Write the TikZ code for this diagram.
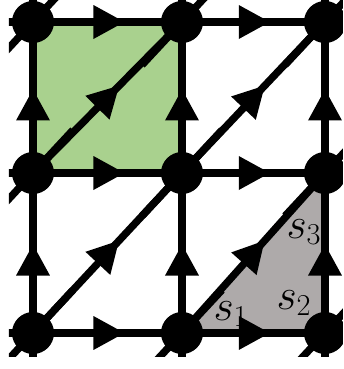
\documentclass[tikz,border=0pt]{standalone}
\usetikzlibrary{decorations.markings,calc}
\definecolor{cellgreen}{HTML}{A9D18E}
\definecolor{cellgray}{HTML}{AEAAAA}
\tikzset{
  bond/.style={line width=4.2pt},
  flow/.style={bond, postaction={decorate},
    decoration={markings, mark=at position #1 with {\fill (0.04,0) -- (-0.58,0.34) -- (-0.58,-0.34) -- cycle;}}},
  site/.style={circle, fill=black, inner sep=0pt, minimum size=0.84cm},
  lab/.style={font=\fontsize{25}{30}\selectfont},
}
\begin{document}
\begin{tikzpicture}
    \useasboundingbox (0,0) rectangle (6.86,7.38);
    \clip (0.18,0.26) rectangle (6.86,7.38);

    % lattice points
    \coordinate (v00) at (0.66,0.72);
    \coordinate (v10) at (3.64,0.72);
    \coordinate (v20) at (6.50,0.72);
    \coordinate (v01) at (0.66,3.92);
    \coordinate (v11) at (3.64,3.92);
    \coordinate (v21) at (6.50,3.92);
    \coordinate (v02) at (0.66,6.94);
    \coordinate (v12) at (3.64,6.94);
    \coordinate (v22) at (6.50,6.94);

    % plaquette and triangle
    \fill[cellgreen] (v01) rectangle (v12);
    \fill[cellgray] (v10) -- (v20) -- (v21) -- cycle;

    % bonds running out of the frame
    \foreach \v in {v00,v10,v20,v01,v11,v21,v02,v12,v22} {
      \draw[bond] ($(\v)+(-1,0)$) -- ($(\v)+(1,0)$);
      \draw[bond] ($(\v)+(0,-1)$) -- ($(\v)+(0,1)$);
      \draw[bond] ($(\v)+(-0.8,-0.86)$) -- ($(\v)+(0.8,0.86)$);
    }

    % horizontal bonds
    \draw[flow=0.6] (v00) -- (v10);
    \draw[flow=0.6] (v10) -- (v20);
    \draw[flow=0.6] (v01) -- (v11);
    \draw[flow=0.6] (v11) -- (v21);
    \draw[flow=0.6] (v02) -- (v12);
    \draw[flow=0.6] (v12) -- (v22);

    % vertical bonds
    \draw[flow=0.54] (v00) -- (v01);
    \draw[flow=0.54] (v01) -- (v02);
    \draw[flow=0.54] (v10) -- (v11);
    \draw[flow=0.54] (v11) -- (v12);
    \draw[flow=0.54] (v20) -- (v21);
    \draw[flow=0.54] (v21) -- (v22);

    % diagonal bonds
    \draw[flow=0.57] (v00) -- (v11);
    \draw[flow=0.57] (v11) -- (v22);
    \draw[flow=0.57] (v01) -- (v12);
    \draw[flow=0.57] (v10) -- (v21);

    % sites
    \foreach \v in {v00,v10,v20,v01,v11,v21,v02,v12,v22}
      \node[site] (n\v) at (\v) {};

    % labels in the triangle
    \node[lab] (s1) at (4.62,1.10) {$s_1$};
    \node[lab] (s2) at (5.88,1.32) {$s_2$};
    \node[lab] (s3) at (6.08,2.74) {$s_3$};
\end{tikzpicture}
\end{document}
